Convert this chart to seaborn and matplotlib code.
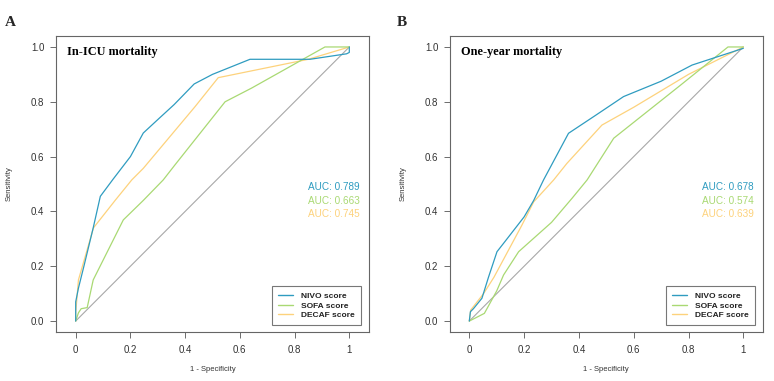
import matplotlib
matplotlib.use("Agg")
import matplotlib.pyplot as plt
import seaborn as sns
import pandas as pd
from matplotlib.lines import Line2D

# ---------------- data ----------------
nivo_a_fpr = [0, 0, 0.01, 0.03, 0.064, 0.09, 0.137, 0.2, 0.247, 0.3, 0.36, 0.433, 0.5, 0.637, 0.856, 0.99, 1, 1]
nivo_a_tpr = [0, 0.07, 0.12, 0.2, 0.34, 0.455, 0.518, 0.6, 0.686, 0.735, 0.79, 0.865, 0.9, 0.955, 0.955, 0.975, 0.98, 1.0]
sofa_a_fpr = [0, 0.01, 0.02, 0.042, 0.064, 0.174, 0.247, 0.32, 0.363, 0.546, 0.643, 0.911, 1]
sofa_a_tpr = [0, 0.03, 0.045, 0.049, 0.15, 0.369, 0.44, 0.515, 0.57, 0.80, 0.85, 1.0, 1.0]
decaf_a_fpr = [0, 0, 0.01, 0.065, 0.144, 0.205, 0.247, 0.436, 0.521, 0.85, 1]
decaf_a_tpr = [0, 0.03, 0.15, 0.34, 0.44, 0.515, 0.557, 0.782, 0.888, 0.955, 1.0]

nivo_b_fpr = [0, 0.004, 0.015, 0.046, 0.07, 0.101, 0.13, 0.2, 0.235, 0.271, 0.362, 0.46, 0.563, 0.7, 0.813, 1]
nivo_b_tpr = [0, 0.034, 0.045, 0.083, 0.16, 0.253, 0.29, 0.38, 0.44, 0.515, 0.685, 0.75, 0.819, 0.875, 0.934, 0.995]
sofa_b_fpr = [0, 0.02, 0.055, 0.1, 0.125, 0.18, 0.3, 0.375, 0.43, 0.527, 0.77, 0.944, 1]
sofa_b_tpr = [0, 0.01, 0.028, 0.11, 0.168, 0.253, 0.36, 0.448, 0.515, 0.667, 0.86, 1.0, 1.0]
decaf_b_fpr = [0, 0.005, 0.052, 0.09, 0.192, 0.235, 0.308, 0.356, 0.484, 0.6, 0.8, 1]
decaf_b_tpr = [0, 0.04, 0.10, 0.16, 0.35, 0.435, 0.515, 0.575, 0.715, 0.78, 0.9, 1.0]

diag = [0, 1]

scores = ["NIVO score", "SOFA score", "DECAF score"]
auc_a = ["0.789", "0.663", "0.745"]
auc_b = ["0.678", "0.574", "0.639"]
titles = ["In-ICU mortality", "One-year mortality"]
letters = ["A", "B"]
x_ticks = [0, 0.2, 0.4, 0.6, 0.8, 1]
x_tick_labels = ["0", "0.2", "0.4", "0.6", "0.8", "1"]
y_ticks = [0, 0.2, 0.4, 0.6, 0.8, 1.0]
y_tick_labels = ["0.0", "0.2", "0.4", "0.6", "0.8", "1.0"]

colors = {"NIVO score": "#2f9cc0", "SOFA score": "#a9d973", "DECAF score": "#fdd27c"}


def build(fprs, tprs):
    rows = []
    for s, f, t in zip(scores, fprs, tprs):
        for i, (a, b) in enumerate(zip(f, t)):
            rows.append({"score": s, "fpr": a, "tpr": b, "order": i})
    return pd.DataFrame(rows)


df_a = build([nivo_a_fpr, sofa_a_fpr, decaf_a_fpr], [nivo_a_tpr, sofa_a_tpr, decaf_a_tpr])
df_b = build([nivo_b_fpr, sofa_b_fpr, decaf_b_fpr], [nivo_b_tpr, sofa_b_tpr, decaf_b_tpr])

sns.set_theme(style="white")
plt.rcParams["font.family"] = ["Liberation Sans", "DejaVu Sans"]

fig = plt.figure(figsize=(7.74, 3.81), dpi=100)
ax_a = fig.add_axes([56 / 774, 49 / 381, 313 / 774, 296 / 381])
ax_b = fig.add_axes([450 / 774, 49 / 381, 312.5 / 774, 296 / 381])

panels = [(ax_a, df_a, auc_a, (-0.072, 1.072)), (ax_b, df_b, auc_b, (-0.0705, 1.070))]
letter_x = [5 / 774, 397 / 774]

for k, (ax, df, aucs, xl) in enumerate(panels):
    ax.plot(diag, diag, color="#a8a8a8", lw=0.8, zorder=1)
    sns.lineplot(data=df, x="fpr", y="tpr", hue="score", hue_order=scores[::-1],
                 palette=colors, sort=False, estimator=None, units="score",
                 lw=0.9, ax=ax, legend=False, zorder=2)
    ax.set_xlim(*xl)
    ax.set_ylim(-0.040, 1.040)
    ax.set_xticks(x_ticks)
    ax.set_xticklabels(x_tick_labels)
    ax.set_yticks(y_ticks)
    ax.set_yticklabels(y_tick_labels)
    ax.tick_params(axis="both", direction="out", length=4.5, width=0.6, color="#555555",
                   labelsize=7, pad=4, colors="#333333", bottom=True, left=True)
    ax.tick_params(axis="x", pad=5)
    for sp in ax.spines.values():
        sp.set_color("#666666")
        sp.set_linewidth(0.8)
    ax.set_xlabel("1 - Specificity", fontsize=5.5, color="#333333", labelpad=8)
    ax.set_ylabel("Sensitivity", fontsize=5.5, color="#333333", labelpad=13)
    ax.text(0.035, 0.946, titles[k], transform=ax.transAxes, fontsize=8.8, fontweight="bold",
            family=["Liberation Serif"], va="center", ha="left", color="black")
    ys = [0.489, 0.4426, 0.398]
    for s, a, y in zip(scores, aucs, ys):
        ax.text(0.971, y, f"AUC: {a}", transform=ax.transAxes, fontsize=7.2,
                color=colors[s], ha="right", va="center")
    handles = [Line2D([0], [0], color=colors[s], lw=1.0) for s in scores]
    leg = ax.legend(handles, scores, loc="lower right", bbox_to_anchor=(0.988, 0.01),
                    frameon=True, fancybox=False, handlelength=1.8,
                    handletextpad=1.0, borderpad=0.7, labelspacing=0.2,
                    prop={"weight": "bold", "size": 6})
    leg.get_frame().set_edgecolor("#555555")
    leg.get_frame().set_linewidth(0.8)
    for t in leg.get_texts():
        t.set_color("#222222")
    fig.text(letter_x[k], 1 - 22 / 381, letters[k], fontsize=11, fontweight="bold",
             family=["Liberation Serif"], va="center", ha="left")

fig.savefig("out.png", dpi=100, facecolor="white")
